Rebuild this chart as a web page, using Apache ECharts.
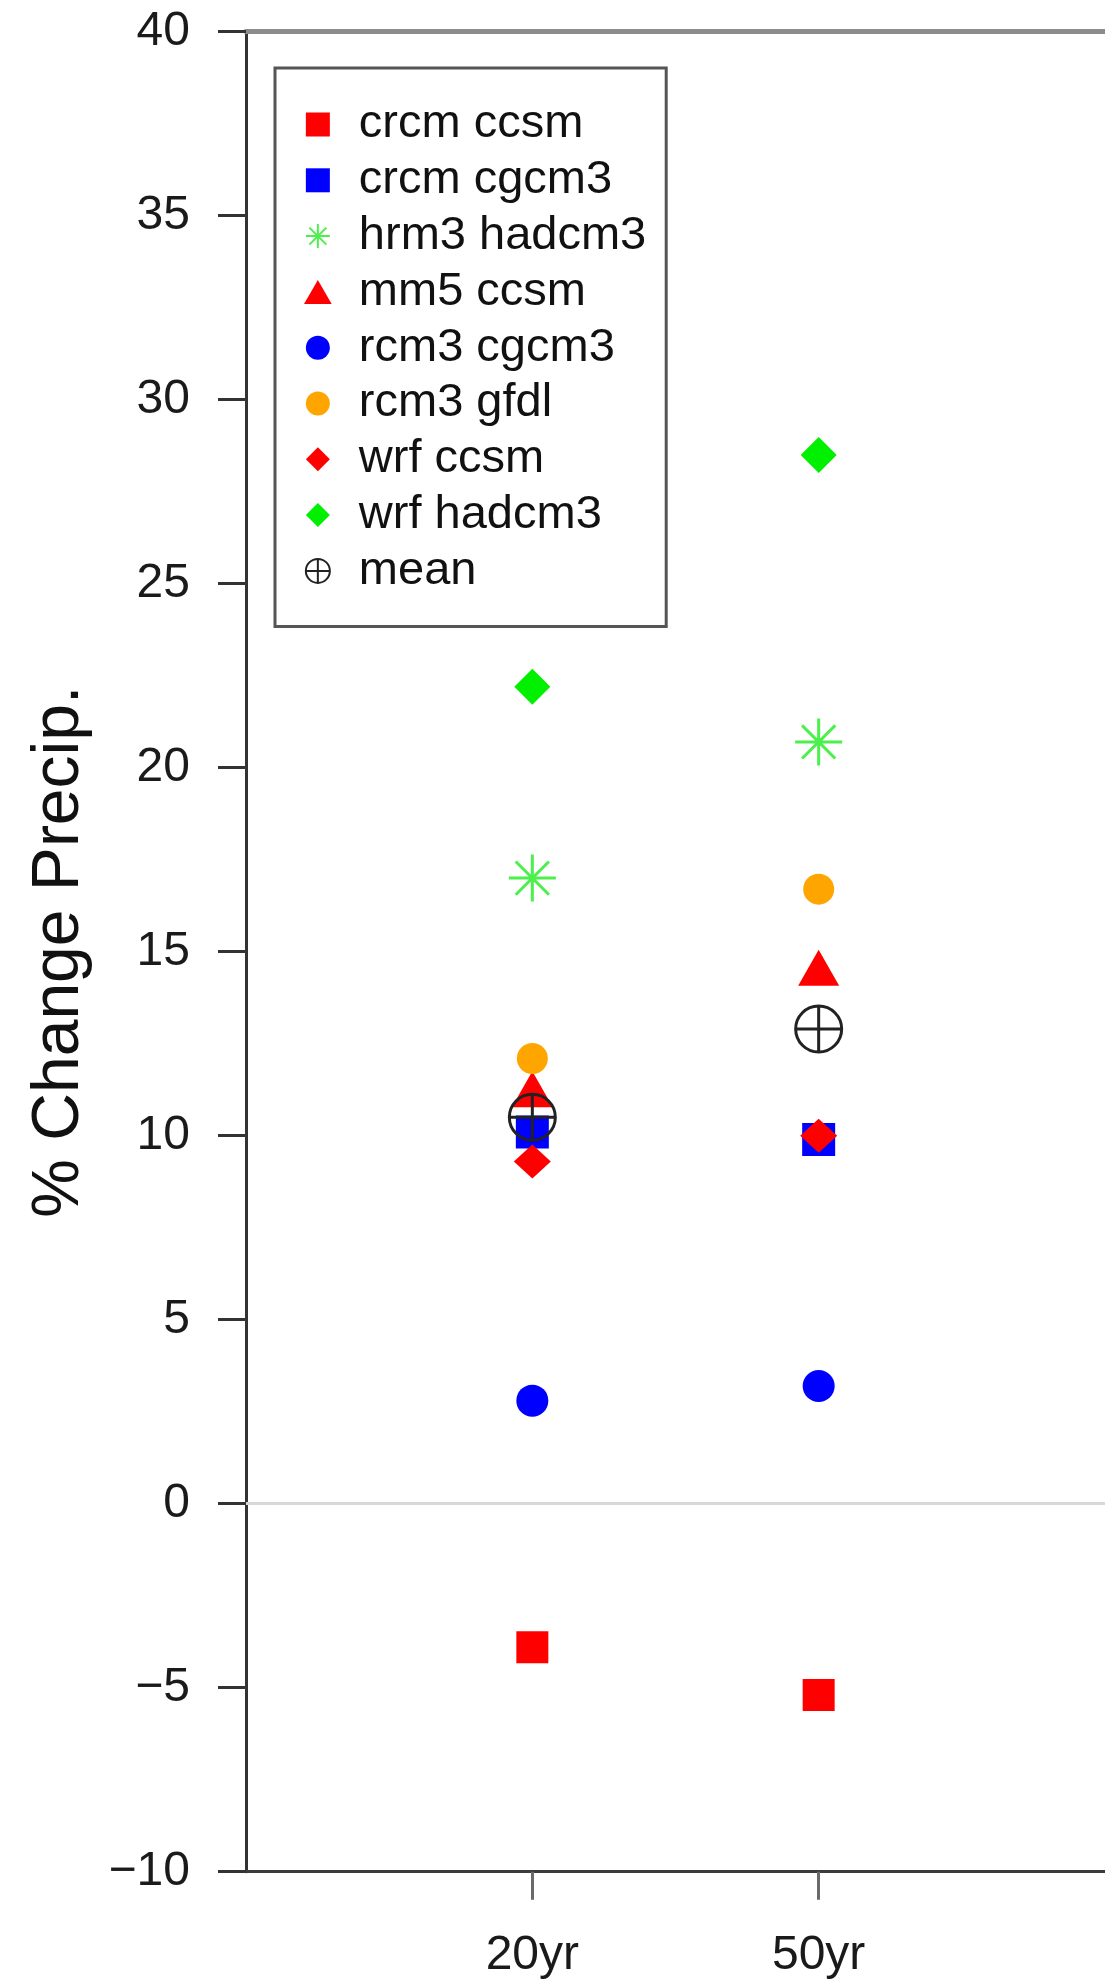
<!DOCTYPE html>
<html>
<head>
<meta charset="utf-8">
<script src="https://cdn.jsdelivr.net/npm/echarts@6/dist/echarts.min.js"></script>
<style>
html,body{margin:0;padding:0;background:#ffffff;}
#chart{width:1105px;height:1986px;}
</style>
</head>
<body>
<div id="chart"></div>
<script>
// ---------------- data ----------------
const categories = ['20yr', '50yr'];
const yTickValues = [-10, -5, 0, 5, 10, 15, 20, 25, 30, 35, 40];

const crcmCcsm   = [-3.9, -5.2];
const crcmCgcm3  = [10.1, 9.9];
const hrm3Hadcm3 = [17.0, 20.7];
const mm5Ccsm    = [11.1, 14.4];
const rcm3Cgcm3  = [2.8, 3.2];
const rcm3Gfdl   = [12.1, 16.7];
const wrfCcsm    = [9.3, 10.0];
const wrfHadcm3  = [22.2, 28.5];
const meanVals   = [10.5, 12.9];

const seriesNames = ['crcm ccsm', 'crcm cgcm3', 'hrm3 hadcm3', 'mm5 ccsm',
  'rcm3 cgcm3', 'rcm3 gfdl', 'wrf ccsm', 'wrf hadcm3', 'mean'];

// ---------------- symbols ----------------
const SQUARE = 'path://M-1,-1L1,-1L1,1L-1,1Z';
const DIAMOND = 'path://M0,-1L1,0L0,1L-1,0Z';
const TRIANGLE = 'path://M0,-1L0.866,0.5L-0.866,0.5Z';
const ASTERISK = 'path://M0,-10L0,10M-10,0L10,0M-7.07,-7.07L7.07,7.07M-7.07,7.07L7.07,-7.07';
const CIRCLEPLUS = 'path://M-10,0A10,10,0,1,0,10,0A10,10,0,1,0,-10,0ZM0,-10L0,10M-10,0L10,0';

const FONT = '"Liberation Sans", Arial, Helvetica, sans-serif';
const xData = [' '].concat(categories).concat(['  ']);

function pts(vals) {
  return categories.map((c, i) => [c, vals[i]]);
}

function mk(name, vals, symbol, size, itemStyle, extra) {
  return Object.assign({
    name: name,
    type: 'scatter',
    data: pts(vals),
    symbol: symbol,
    symbolSize: size,
    itemStyle: Object.assign({ opacity: 1 }, itemStyle),
    emphasis: { disabled: true },
    animation: false
  }, extra || {});
}

const series = [
  mk(seriesNames[0], crcmCcsm, SQUARE, 32, { color: '#ff0000' }, {
    markLine: {
      silent: true,
      symbol: ['none', 'none'],
      label: { show: false },
      lineStyle: { color: '#d8d8d8', width: 3, type: 'solid', opacity: 1 },
      data: [{ yAxis: 0 }],
      animation: false
    }
  }),
  mk(seriesNames[1], crcmCgcm3, SQUARE, 33, { color: '#0000ff' }),
  mk(seriesNames[2], hrm3Hadcm3, ASTERISK, 47, { color: '#4cf04c', borderColor: '#4cf04c', borderWidth: 3 }),
  mk(seriesNames[3], mm5Ccsm, TRIANGLE, [41, 36], { color: '#ff0000' }, { symbolOffset: [0, -6] }),
  mk(seriesNames[4], rcm3Cgcm3, 'circle', 32, { color: '#0000ff' }),
  mk(seriesNames[5], rcm3Gfdl, 'circle', 31, { color: '#ffa500' }),
  mk(seriesNames[6], wrfCcsm, DIAMOND, [37, 34], { color: '#ff0000' }),
  mk(seriesNames[7], wrfHadcm3, DIAMOND, 36, { color: '#00f000' }),
  mk(seriesNames[8], meanVals, CIRCLEPLUS, 46, { color: 'rgba(0,0,0,0)', borderColor: '#222222', borderWidth: 3 })
];

const legendIcons = [SQUARE, SQUARE, ASTERISK, TRIANGLE, 'circle', 'circle', DIAMOND, DIAMOND, CIRCLEPLUS];

const chart = echarts.init(document.getElementById('chart'), null, { renderer: 'canvas' });
chart.setOption({
  backgroundColor: '#ffffff',
  animation: false,
  textStyle: { fontFamily: FONT },
  grid: { left: 246, top: 31.7, right: -5, bottom: 114.3, containLabel: false },
  legend: {
    orient: 'vertical',
    left: 275,
    top: 68,
    padding: [33, 20, 32, 29],
    itemGap: 8.8,
    itemWidth: 72,
    itemHeight: 24,
    selectedMode: false,
    borderColor: '#555555',
    borderWidth: 3,
    backgroundColor: '#ffffff',
    textStyle: { fontSize: 47, lineHeight: 46, color: '#111111', fontFamily: FONT },
    data: seriesNames.map((n, i) => ({ name: n, icon: legendIcons[i] }))
  },
  xAxis: [
    {
      type: 'category',
      data: xData,
      boundaryGap: false,
      position: 'bottom',
      axisLine: { show: true, onZero: false, lineStyle: { color: '#3c3c3c', width: 3 } },
      axisTick: {
        show: true,
        length: 28,
        interval: (idx) => idx > 0 && idx <= categories.length,
        lineStyle: { color: '#6a6a6a', width: 3 }
      },
      axisLabel: {
        interval: (idx) => idx > 0 && idx <= categories.length,
        margin: 84,
        verticalAlign: 'middle',
        fontSize: 48,
        color: '#1a1a1a',
        fontFamily: FONT
      },
      splitLine: { show: false }
    },
    {
      type: 'category',
      data: xData,
      boundaryGap: false,
      position: 'top',
      axisLine: { show: true, onZero: false, lineStyle: { color: '#8c8c8c', width: 5 } },
      axisTick: { show: false },
      axisLabel: { show: false },
      splitLine: { show: false }
    }
  ],
  yAxis: {
    type: 'value',
    min: yTickValues[0],
    max: yTickValues[yTickValues.length - 1],
    interval: yTickValues[1] - yTickValues[0],
    name: '% Change Precip.',
    nameLocation: 'middle',
    nameRotate: 90,
    nameGap: 153,
    nameTextStyle: { fontSize: 66, color: '#111111', fontFamily: FONT },
    axisLine: { show: true, onZero: false, lineStyle: { color: '#333333', width: 3 } },
    axisTick: { show: true, length: 28, lineStyle: { color: '#333333', width: 3 } },
    axisLabel: {
      margin: 56,
      fontSize: 48,
      color: '#1a1a1a',
      fontFamily: FONT,
      formatter: (v) => (v < 0 ? '\u2212' + Math.abs(v) : String(v))
    },
    splitLine: { show: false }
  },
  series: series
});
</script>
</body>
</html>
